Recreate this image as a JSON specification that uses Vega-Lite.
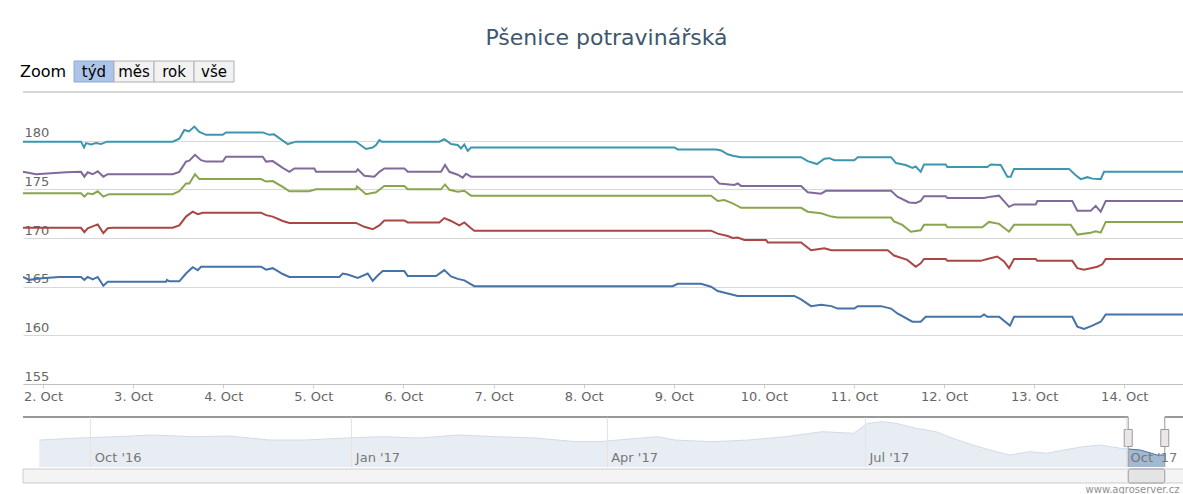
{
  "$schema": "https://vega.github.io/schema/vega-lite/v6.json",
  "padding": {"left": 19, "top": 26, "right": 0, "bottom": 0},
  "background": "white",
  "config": {"font": "DejaVu Sans", "view": {"stroke": null}},
  "title": {"text": "Pšenice potravinářská", "anchor": "middle", "fontSize": 22, "fontWeight": "normal", "color": "#3E576F", "offset": 11, "dx": 4},
  "datasets": {
    "zoomlabel": [{"t": "Zoom"}],
    "buttons": [
      {"b": "týd", "sel": true},
      {"b": "měs", "sel": false},
      {"b": "rok", "sel": false},
      {"b": "vše", "sel": false}
    ],
    "series": [
      {"s":"řada 1","t":"2017-10-01T18:40","v":166.0},
      {"s":"řada 1","t":"2017-10-01T20:21","v":165.7},
      {"s":"řada 1","t":"2017-10-01T23:01","v":165.85},
      {"s":"řada 1","t":"2017-10-02T04:16","v":166.0},
      {"s":"řada 1","t":"2017-10-02T10:07","v":166.0},
      {"s":"řada 1","t":"2017-10-02T11:00","v":165.7},
      {"s":"řada 1","t":"2017-10-02T11:54","v":166.0},
      {"s":"řada 1","t":"2017-10-02T13:14","v":165.75},
      {"s":"řada 1","t":"2017-10-02T14:34","v":166.0},
      {"s":"řada 1","t":"2017-10-02T16:04","v":165.1},
      {"s":"řada 1","t":"2017-10-02T17:14","v":165.5},
      {"s":"řada 1","t":"2017-10-03T08:46","v":165.5},
      {"s":"řada 1","t":"2017-10-03T09:00","v":165.7},
      {"s":"řada 1","t":"2017-10-03T09:38","v":165.55},
      {"s":"řada 1","t":"2017-10-03T12:18","v":165.55},
      {"s":"řada 1","t":"2017-10-03T14:05","v":166.35},
      {"s":"řada 1","t":"2017-10-03T15:52","v":167.0},
      {"s":"řada 1","t":"2017-10-03T17:13","v":166.7},
      {"s":"řada 1","t":"2017-10-03T18:05","v":167.05},
      {"s":"řada 1","t":"2017-10-04T10:04","v":167.05},
      {"s":"řada 1","t":"2017-10-04T11:24","v":166.75},
      {"s":"řada 1","t":"2017-10-04T13:11","v":166.9},
      {"s":"řada 1","t":"2017-10-04T15:51","v":166.3},
      {"s":"řada 1","t":"2017-10-04T17:37","v":166.0},
      {"s":"řada 1","t":"2017-10-05T06:56","v":166.0},
      {"s":"řada 1","t":"2017-10-05T07:50","v":166.35},
      {"s":"řada 1","t":"2017-10-05T09:10","v":166.25},
      {"s":"řada 1","t":"2017-10-05T11:50","v":165.9},
      {"s":"řada 1","t":"2017-10-05T14:29","v":166.35},
      {"s":"řada 1","t":"2017-10-05T15:49","v":165.6},
      {"s":"řada 1","t":"2017-10-05T17:09","v":166.15},
      {"s":"řada 1","t":"2017-10-05T18:29","v":166.6},
      {"s":"řada 1","t":"2017-10-06T00:14","v":166.6},
      {"s":"řada 1","t":"2017-10-06T01:09","v":166.1},
      {"s":"řada 1","t":"2017-10-06T08:41","v":166.1},
      {"s":"řada 1","t":"2017-10-06T10:53","v":166.7},
      {"s":"řada 1","t":"2017-10-06T12:41","v":166.05},
      {"s":"řada 1","t":"2017-10-06T14:28","v":165.8},
      {"s":"řada 1","t":"2017-10-06T16:13","v":165.65},
      {"s":"řada 1","t":"2017-10-06T18:53","v":165.05},
      {"s":"řada 1","t":"2017-10-08T23:44","v":165.05},
      {"s":"řada 1","t":"2017-10-09T01:04","v":165.3},
      {"s":"řada 1","t":"2017-10-09T07:16","v":165.3},
      {"s":"řada 1","t":"2017-10-09T09:56","v":165.0},
      {"s":"řada 1","t":"2017-10-09T11:43","v":164.55},
      {"s":"řada 1","t":"2017-10-09T14:23","v":164.3},
      {"s":"řada 1","t":"2017-10-09T17:02","v":164.05},
      {"s":"řada 1","t":"2017-10-10T08:07","v":164.05},
      {"s":"řada 1","t":"2017-10-10T09:55","v":163.7},
      {"s":"řada 1","t":"2017-10-10T12:34","v":163.0},
      {"s":"řada 1","t":"2017-10-10T15:14","v":163.15},
      {"s":"řada 1","t":"2017-10-10T18:00","v":163.0},
      {"s":"řada 1","t":"2017-10-10T19:41","v":162.75},
      {"s":"řada 1","t":"2017-10-11T00:06","v":162.75},
      {"s":"řada 1","t":"2017-10-11T01:00","v":163.0},
      {"s":"řada 1","t":"2017-10-11T07:11","v":163.0},
      {"s":"řada 1","t":"2017-10-11T09:53","v":162.75},
      {"s":"řada 1","t":"2017-10-11T11:34","v":162.25},
      {"s":"řada 1","t":"2017-10-11T15:34","v":161.4},
      {"s":"řada 1","t":"2017-10-11T17:47","v":161.4},
      {"s":"řada 1","t":"2017-10-11T19:07","v":161.9},
      {"s":"řada 1","t":"2017-10-12T09:46","v":161.9},
      {"s":"řada 1","t":"2017-10-12T10:39","v":162.15},
      {"s":"řada 1","t":"2017-10-12T11:32","v":161.9},
      {"s":"řada 1","t":"2017-10-12T14:39","v":161.9},
      {"s":"řada 1","t":"2017-10-12T17:34","v":161.0},
      {"s":"řada 1","t":"2017-10-12T18:39","v":161.9},
      {"s":"řada 1","t":"2017-10-13T10:10","v":161.9},
      {"s":"řada 1","t":"2017-10-13T11:30","v":160.9},
      {"s":"řada 1","t":"2017-10-13T13:17","v":160.65},
      {"s":"řada 1","t":"2017-10-13T15:30","v":161.0},
      {"s":"řada 1","t":"2017-10-13T17:44","v":161.4},
      {"s":"řada 1","t":"2017-10-13T19:04","v":162.15},
      {"s":"řada 1","t":"2017-10-14T15:55","v":162.15},

      {"s":"řada 2","t":"2017-10-01T18:40","v":171.05},
      {"s":"řada 2","t":"2017-10-02T10:07","v":171.05},
      {"s":"řada 2","t":"2017-10-02T11:00","v":170.6},
      {"s":"řada 2","t":"2017-10-02T11:54","v":171.0},
      {"s":"řada 2","t":"2017-10-02T14:34","v":171.4},
      {"s":"řada 2","t":"2017-10-02T16:04","v":170.5},
      {"s":"řada 2","t":"2017-10-02T17:14","v":171.0},
      {"s":"řada 2","t":"2017-10-02T18:34","v":171.05},
      {"s":"řada 2","t":"2017-10-03T10:33","v":171.05},
      {"s":"řada 2","t":"2017-10-03T12:18","v":171.3},
      {"s":"řada 2","t":"2017-10-03T14:05","v":172.2},
      {"s":"řada 2","t":"2017-10-03T15:52","v":172.7},
      {"s":"řada 2","t":"2017-10-03T17:13","v":172.45},
      {"s":"řada 2","t":"2017-10-03T18:32","v":172.6},
      {"s":"řada 2","t":"2017-10-04T10:04","v":172.6},
      {"s":"řada 2","t":"2017-10-04T11:24","v":172.35},
      {"s":"řada 2","t":"2017-10-04T13:11","v":172.2},
      {"s":"řada 2","t":"2017-10-04T15:51","v":171.75},
      {"s":"řada 2","t":"2017-10-04T17:37","v":171.55},
      {"s":"řada 2","t":"2017-10-05T11:22","v":171.55},
      {"s":"řada 2","t":"2017-10-05T13:35","v":171.15},
      {"s":"řada 2","t":"2017-10-05T15:49","v":170.9},
      {"s":"řada 2","t":"2017-10-05T17:35","v":171.3},
      {"s":"řada 2","t":"2017-10-05T18:55","v":171.8},
      {"s":"řada 2","t":"2017-10-06T00:14","v":171.8},
      {"s":"řada 2","t":"2017-10-06T01:09","v":171.6},
      {"s":"řada 2","t":"2017-10-06T09:34","v":171.6},
      {"s":"řada 2","t":"2017-10-06T10:53","v":172.05},
      {"s":"řada 2","t":"2017-10-06T12:41","v":171.75},
      {"s":"řada 2","t":"2017-10-06T14:53","v":171.3},
      {"s":"řada 2","t":"2017-10-06T16:13","v":171.6},
      {"s":"řada 2","t":"2017-10-06T18:00","v":171.0},
      {"s":"řada 2","t":"2017-10-06T18:53","v":170.75},
      {"s":"řada 2","t":"2017-10-09T09:56","v":170.75},
      {"s":"řada 2","t":"2017-10-09T11:43","v":170.45},
      {"s":"řada 2","t":"2017-10-09T14:23","v":170.2},
      {"s":"řada 2","t":"2017-10-09T15:43","v":170.0},
      {"s":"řada 2","t":"2017-10-09T17:02","v":170.05},
      {"s":"řada 2","t":"2017-10-09T18:48","v":169.8},
      {"s":"řada 2","t":"2017-10-10T00:35","v":169.8},
      {"s":"řada 2","t":"2017-10-10T01:02","v":169.55},
      {"s":"řada 2","t":"2017-10-10T09:55","v":169.55},
      {"s":"řada 2","t":"2017-10-10T12:34","v":168.75},
      {"s":"řada 2","t":"2017-10-10T14:22","v":168.85},
      {"s":"řada 2","t":"2017-10-10T16:07","v":168.95},
      {"s":"řada 2","t":"2017-10-10T18:00","v":168.75},
      {"s":"řada 2","t":"2017-10-11T08:59","v":168.75},
      {"s":"řada 2","t":"2017-10-11T10:41","v":168.2},
      {"s":"řada 2","t":"2017-10-11T14:13","v":167.75},
      {"s":"řada 2","t":"2017-10-11T16:28","v":167.05},
      {"s":"řada 2","t":"2017-10-11T17:47","v":167.4},
      {"s":"řada 2","t":"2017-10-11T18:40","v":167.85},
      {"s":"řada 2","t":"2017-10-12T00:27","v":167.85},
      {"s":"řada 2","t":"2017-10-12T00:52","v":167.65},
      {"s":"řada 2","t":"2017-10-12T09:46","v":167.65},
      {"s":"řada 2","t":"2017-10-12T11:32","v":167.85},
      {"s":"řada 2","t":"2017-10-12T14:11","v":168.1},
      {"s":"řada 2","t":"2017-10-12T15:59","v":167.6},
      {"s":"řada 2","t":"2017-10-12T17:19","v":166.9},
      {"s":"řada 2","t":"2017-10-12T18:39","v":167.85},
      {"s":"řada 2","t":"2017-10-13T00:25","v":167.85},
      {"s":"řada 2","t":"2017-10-13T00:51","v":167.65},
      {"s":"řada 2","t":"2017-10-13T10:10","v":167.65},
      {"s":"řada 2","t":"2017-10-13T11:30","v":166.9},
      {"s":"řada 2","t":"2017-10-13T13:17","v":166.75},
      {"s":"řada 2","t":"2017-10-13T16:50","v":167.05},
      {"s":"řada 2","t":"2017-10-13T18:10","v":167.3},
      {"s":"řada 2","t":"2017-10-13T19:04","v":167.85},
      {"s":"řada 2","t":"2017-10-14T15:55","v":167.85},

      {"s":"řada 3","t":"2017-10-01T18:40","v":174.6},
      {"s":"řada 3","t":"2017-10-02T10:07","v":174.6},
      {"s":"řada 3","t":"2017-10-02T11:00","v":174.25},
      {"s":"řada 3","t":"2017-10-02T11:54","v":174.6},
      {"s":"řada 3","t":"2017-10-02T13:14","v":174.5},
      {"s":"řada 3","t":"2017-10-02T14:34","v":174.8},
      {"s":"řada 3","t":"2017-10-02T16:04","v":174.25},
      {"s":"řada 3","t":"2017-10-02T17:35","v":174.5},
      {"s":"řada 3","t":"2017-10-03T10:33","v":174.5},
      {"s":"řada 3","t":"2017-10-03T12:18","v":174.8},
      {"s":"řada 3","t":"2017-10-03T14:05","v":175.6},
      {"s":"řada 3","t":"2017-10-03T14:58","v":175.6},
      {"s":"řada 3","t":"2017-10-03T16:29","v":176.55},
      {"s":"řada 3","t":"2017-10-03T17:38","v":176.05},
      {"s":"řada 3","t":"2017-10-04T10:04","v":176.05},
      {"s":"řada 3","t":"2017-10-04T11:24","v":175.8},
      {"s":"řada 3","t":"2017-10-04T13:11","v":175.85},
      {"s":"řada 3","t":"2017-10-04T15:51","v":175.25},
      {"s":"řada 3","t":"2017-10-04T17:37","v":174.8},
      {"s":"řada 3","t":"2017-10-04T22:51","v":174.8},
      {"s":"řada 3","t":"2017-10-05T00:43","v":175.0},
      {"s":"řada 3","t":"2017-10-05T11:22","v":175.0},
      {"s":"řada 3","t":"2017-10-05T11:38","v":175.3},
      {"s":"řada 3","t":"2017-10-05T14:02","v":174.5},
      {"s":"řada 3","t":"2017-10-05T16:42","v":174.7},
      {"s":"řada 3","t":"2017-10-05T18:55","v":175.35},
      {"s":"řada 3","t":"2017-10-06T00:14","v":175.35},
      {"s":"řada 3","t":"2017-10-06T01:09","v":175.0},
      {"s":"řada 3","t":"2017-10-06T10:01","v":175.0},
      {"s":"řada 3","t":"2017-10-06T11:05","v":175.5},
      {"s":"řada 3","t":"2017-10-06T12:14","v":174.95},
      {"s":"řada 3","t":"2017-10-06T14:28","v":174.75},
      {"s":"řada 3","t":"2017-10-06T16:13","v":174.85},
      {"s":"řada 3","t":"2017-10-06T18:00","v":174.35},
      {"s":"řada 3","t":"2017-10-09T09:56","v":174.35},
      {"s":"řada 3","t":"2017-10-09T11:43","v":173.8},
      {"s":"řada 3","t":"2017-10-09T13:28","v":173.9},
      {"s":"řada 3","t":"2017-10-09T15:43","v":173.55},
      {"s":"řada 3","t":"2017-10-09T17:56","v":173.1},
      {"s":"řada 3","t":"2017-10-10T09:55","v":173.1},
      {"s":"řada 3","t":"2017-10-10T11:41","v":172.7},
      {"s":"řada 3","t":"2017-10-10T15:14","v":172.55},
      {"s":"řada 3","t":"2017-10-10T18:00","v":172.2},
      {"s":"řada 3","t":"2017-10-10T19:41","v":172.1},
      {"s":"řada 3","t":"2017-10-11T09:53","v":172.1},
      {"s":"řada 3","t":"2017-10-11T10:41","v":171.7},
      {"s":"řada 3","t":"2017-10-11T12:53","v":171.35},
      {"s":"řada 3","t":"2017-10-11T15:08","v":170.65},
      {"s":"řada 3","t":"2017-10-11T17:47","v":170.8},
      {"s":"řada 3","t":"2017-10-11T18:40","v":171.35},
      {"s":"řada 3","t":"2017-10-12T00:27","v":171.35},
      {"s":"řada 3","t":"2017-10-12T00:52","v":171.1},
      {"s":"řada 3","t":"2017-10-12T10:11","v":171.1},
      {"s":"řada 3","t":"2017-10-12T11:59","v":171.65},
      {"s":"řada 3","t":"2017-10-12T14:39","v":171.45},
      {"s":"řada 3","t":"2017-10-12T17:19","v":170.65},
      {"s":"řada 3","t":"2017-10-12T18:39","v":171.35},
      {"s":"řada 3","t":"2017-10-13T09:44","v":171.35},
      {"s":"řada 3","t":"2017-10-13T11:30","v":170.35},
      {"s":"řada 3","t":"2017-10-13T15:04","v":170.55},
      {"s":"řada 3","t":"2017-10-13T16:24","v":170.7},
      {"s":"řada 3","t":"2017-10-13T17:44","v":170.55},
      {"s":"řada 3","t":"2017-10-13T19:04","v":171.65},
      {"s":"řada 3","t":"2017-10-14T15:55","v":171.65},

      {"s":"řada 4","t":"2017-10-01T18:40","v":176.8},
      {"s":"řada 4","t":"2017-10-01T22:08","v":176.55},
      {"s":"řada 4","t":"2017-10-02T06:08","v":176.75},
      {"s":"řada 4","t":"2017-10-02T10:07","v":176.8},
      {"s":"řada 4","t":"2017-10-02T11:00","v":176.3},
      {"s":"řada 4","t":"2017-10-02T11:54","v":176.75},
      {"s":"řada 4","t":"2017-10-02T13:14","v":176.55},
      {"s":"řada 4","t":"2017-10-02T14:34","v":176.85},
      {"s":"řada 4","t":"2017-10-02T16:04","v":176.3},
      {"s":"řada 4","t":"2017-10-02T17:14","v":176.55},
      {"s":"řada 4","t":"2017-10-03T10:33","v":176.55},
      {"s":"řada 4","t":"2017-10-03T12:18","v":176.8},
      {"s":"řada 4","t":"2017-10-03T14:05","v":177.85},
      {"s":"řada 4","t":"2017-10-03T14:58","v":177.95},
      {"s":"řada 4","t":"2017-10-03T16:29","v":178.55},
      {"s":"řada 4","t":"2017-10-03T18:05","v":178.0},
      {"s":"řada 4","t":"2017-10-03T19:25","v":177.85},
      {"s":"řada 4","t":"2017-10-03T23:52","v":177.85},
      {"s":"řada 4","t":"2017-10-04T00:45","v":178.35},
      {"s":"řada 4","t":"2017-10-04T10:31","v":178.35},
      {"s":"řada 4","t":"2017-10-04T11:24","v":177.85},
      {"s":"řada 4","t":"2017-10-04T13:11","v":177.9},
      {"s":"řada 4","t":"2017-10-04T15:51","v":177.2},
      {"s":"řada 4","t":"2017-10-04T17:37","v":176.8},
      {"s":"řada 4","t":"2017-10-04T18:56","v":177.15},
      {"s":"řada 4","t":"2017-10-05T00:16","v":177.15},
      {"s":"řada 4","t":"2017-10-05T00:43","v":176.8},
      {"s":"řada 4","t":"2017-10-05T11:22","v":176.8},
      {"s":"řada 4","t":"2017-10-05T11:50","v":177.05},
      {"s":"řada 4","t":"2017-10-05T13:35","v":176.4},
      {"s":"řada 4","t":"2017-10-05T16:15","v":176.3},
      {"s":"řada 4","t":"2017-10-05T17:35","v":176.8},
      {"s":"řada 4","t":"2017-10-05T18:55","v":177.15},
      {"s":"řada 4","t":"2017-10-06T00:14","v":177.15},
      {"s":"řada 4","t":"2017-10-06T01:09","v":176.8},
      {"s":"řada 4","t":"2017-10-06T10:01","v":176.8},
      {"s":"řada 4","t":"2017-10-06T11:05","v":177.5},
      {"s":"řada 4","t":"2017-10-06T12:14","v":176.8},
      {"s":"řada 4","t":"2017-10-06T14:28","v":176.5},
      {"s":"řada 4","t":"2017-10-06T15:47","v":176.2},
      {"s":"řada 4","t":"2017-10-06T16:40","v":176.6},
      {"s":"řada 4","t":"2017-10-06T18:00","v":176.3},
      {"s":"řada 4","t":"2017-10-09T10:23","v":176.3},
      {"s":"řada 4","t":"2017-10-09T12:08","v":175.6},
      {"s":"řada 4","t":"2017-10-09T16:08","v":175.45},
      {"s":"řada 4","t":"2017-10-09T17:02","v":175.6},
      {"s":"řada 4","t":"2017-10-09T17:56","v":175.35},
      {"s":"řada 4","t":"2017-10-10T09:55","v":175.35},
      {"s":"řada 4","t":"2017-10-10T11:41","v":174.7},
      {"s":"řada 4","t":"2017-10-10T15:14","v":174.55},
      {"s":"řada 4","t":"2017-10-10T16:34","v":174.85},
      {"s":"řada 4","t":"2017-10-11T09:53","v":174.85},
      {"s":"řada 4","t":"2017-10-11T11:34","v":174.25},
      {"s":"řada 4","t":"2017-10-11T14:41","v":173.65},
      {"s":"řada 4","t":"2017-10-11T16:28","v":173.6},
      {"s":"řada 4","t":"2017-10-11T17:47","v":173.8},
      {"s":"řada 4","t":"2017-10-11T18:40","v":174.3},
      {"s":"řada 4","t":"2017-10-12T00:27","v":174.3},
      {"s":"řada 4","t":"2017-10-12T00:52","v":174.1},
      {"s":"řada 4","t":"2017-10-12T10:39","v":174.1},
      {"s":"řada 4","t":"2017-10-12T12:26","v":174.25},
      {"s":"řada 4","t":"2017-10-12T14:39","v":174.35},
      {"s":"řada 4","t":"2017-10-12T17:19","v":173.2},
      {"s":"řada 4","t":"2017-10-12T18:39","v":173.45},
      {"s":"řada 4","t":"2017-10-13T00:25","v":173.45},
      {"s":"řada 4","t":"2017-10-13T00:51","v":173.8},
      {"s":"řada 4","t":"2017-10-13T10:10","v":173.8},
      {"s":"řada 4","t":"2017-10-13T11:30","v":172.8},
      {"s":"řada 4","t":"2017-10-13T15:04","v":172.8},
      {"s":"řada 4","t":"2017-10-13T16:24","v":173.3},
      {"s":"řada 4","t":"2017-10-13T17:44","v":172.7},
      {"s":"řada 4","t":"2017-10-13T19:04","v":173.8},
      {"s":"řada 4","t":"2017-10-14T15:55","v":173.8},

      {"s":"řada 5","t":"2017-10-01T18:40","v":179.9},
      {"s":"řada 5","t":"2017-10-02T10:07","v":179.9},
      {"s":"řada 5","t":"2017-10-02T10:55","v":179.3},
      {"s":"řada 5","t":"2017-10-02T11:27","v":179.75},
      {"s":"řada 5","t":"2017-10-02T12:47","v":179.6},
      {"s":"řada 5","t":"2017-10-02T14:07","v":179.75},
      {"s":"řada 5","t":"2017-10-02T15:27","v":179.65},
      {"s":"řada 5","t":"2017-10-02T17:03","v":179.9},
      {"s":"řada 5","t":"2017-10-03T10:33","v":179.9},
      {"s":"řada 5","t":"2017-10-03T12:18","v":180.2},
      {"s":"řada 5","t":"2017-10-03T13:38","v":181.1},
      {"s":"řada 5","t":"2017-10-03T14:53","v":180.95},
      {"s":"řada 5","t":"2017-10-03T16:18","v":181.45},
      {"s":"řada 5","t":"2017-10-03T17:38","v":180.9},
      {"s":"řada 5","t":"2017-10-03T19:25","v":180.6},
      {"s":"řada 5","t":"2017-10-03T23:52","v":180.6},
      {"s":"řada 5","t":"2017-10-04T00:45","v":180.85},
      {"s":"řada 5","t":"2017-10-04T10:31","v":180.85},
      {"s":"řada 5","t":"2017-10-04T12:17","v":180.6},
      {"s":"řada 5","t":"2017-10-04T13:32","v":180.65},
      {"s":"řada 5","t":"2017-10-04T15:51","v":180.0},
      {"s":"řada 5","t":"2017-10-04T17:11","v":179.65},
      {"s":"řada 5","t":"2017-10-04T18:31","v":179.8},
      {"s":"řada 5","t":"2017-10-04T19:23","v":179.9},
      {"s":"řada 5","t":"2017-10-05T11:22","v":179.9},
      {"s":"řada 5","t":"2017-10-05T14:02","v":179.15},
      {"s":"řada 5","t":"2017-10-05T15:49","v":179.3},
      {"s":"řada 5","t":"2017-10-05T16:42","v":179.55},
      {"s":"řada 5","t":"2017-10-05T17:35","v":180.05},
      {"s":"řada 5","t":"2017-10-05T18:13","v":179.9},
      {"s":"řada 5","t":"2017-10-06T09:34","v":179.9},
      {"s":"řada 5","t":"2017-10-06T10:53","v":180.15},
      {"s":"řada 5","t":"2017-10-06T12:41","v":179.65},
      {"s":"řada 5","t":"2017-10-06T14:28","v":179.55},
      {"s":"řada 5","t":"2017-10-06T15:20","v":179.2},
      {"s":"řada 5","t":"2017-10-06T16:13","v":179.6},
      {"s":"řada 5","t":"2017-10-06T17:08","v":178.95},
      {"s":"řada 5","t":"2017-10-06T18:00","v":179.3},
      {"s":"řada 5","t":"2017-10-09T00:10","v":179.3},
      {"s":"řada 5","t":"2017-10-09T01:04","v":179.1},
      {"s":"řada 5","t":"2017-10-09T11:16","v":179.1},
      {"s":"řada 5","t":"2017-10-09T12:36","v":179.0},
      {"s":"řada 5","t":"2017-10-09T14:23","v":178.6},
      {"s":"řada 5","t":"2017-10-09T15:43","v":178.45},
      {"s":"řada 5","t":"2017-10-09T17:56","v":178.3},
      {"s":"řada 5","t":"2017-10-10T09:55","v":178.3},
      {"s":"řada 5","t":"2017-10-10T11:41","v":177.9},
      {"s":"řada 5","t":"2017-10-10T14:10","v":177.6},
      {"s":"řada 5","t":"2017-10-10T16:07","v":178.15},
      {"s":"řada 5","t":"2017-10-10T17:27","v":178.2},
      {"s":"řada 5","t":"2017-10-10T18:47","v":178.0},
      {"s":"řada 5","t":"2017-10-11T00:06","v":178.0},
      {"s":"řada 5","t":"2017-10-11T01:00","v":178.3},
      {"s":"řada 5","t":"2017-10-11T09:53","v":178.3},
      {"s":"řada 5","t":"2017-10-11T11:13","v":177.7},
      {"s":"řada 5","t":"2017-10-11T13:47","v":177.5},
      {"s":"řada 5","t":"2017-10-11T15:34","v":177.2},
      {"s":"řada 5","t":"2017-10-11T16:28","v":177.35},
      {"s":"řada 5","t":"2017-10-11T17:47","v":176.8},
      {"s":"řada 5","t":"2017-10-11T18:40","v":177.55},
      {"s":"řada 5","t":"2017-10-12T00:27","v":177.55},
      {"s":"řada 5","t":"2017-10-12T00:52","v":177.3},
      {"s":"řada 5","t":"2017-10-12T11:32","v":177.3},
      {"s":"řada 5","t":"2017-10-12T12:26","v":177.55},
      {"s":"řada 5","t":"2017-10-12T15:06","v":177.5},
      {"s":"řada 5","t":"2017-10-12T16:52","v":176.3},
      {"s":"řada 5","t":"2017-10-12T17:46","v":176.3},
      {"s":"řada 5","t":"2017-10-12T18:39","v":177.1},
      {"s":"řada 5","t":"2017-10-13T09:17","v":177.1},
      {"s":"řada 5","t":"2017-10-13T11:05","v":176.45},
      {"s":"řada 5","t":"2017-10-13T12:25","v":176.05},
      {"s":"řada 5","t":"2017-10-13T14:10","v":176.25},
      {"s":"řada 5","t":"2017-10-13T15:30","v":176.1},
      {"s":"řada 5","t":"2017-10-13T17:44","v":176.05},
      {"s":"řada 5","t":"2017-10-13T18:37","v":176.8},
      {"s":"řada 5","t":"2017-10-14T15:55","v":176.8}
    ],
    "nav": [
      {"d":"2016-09-13T00:00","v":177},
      {"d":"2016-09-27T00:00","v":179},
      {"d":"2016-10-10T00:00","v":180.3},
      {"d":"2016-10-23T00:00","v":182},
      {"d":"2016-11-06T00:00","v":180.3},
      {"d":"2016-11-19T00:00","v":181},
      {"d":"2016-12-03T00:00","v":177},
      {"d":"2016-12-16T00:00","v":177},
      {"d":"2016-12-30T00:00","v":179},
      {"d":"2017-01-12T00:00","v":180.3},
      {"d":"2017-01-25T00:00","v":179},
      {"d":"2017-02-08T00:00","v":182},
      {"d":"2017-02-21T00:00","v":180.3},
      {"d":"2017-03-07T00:00","v":179},
      {"d":"2017-03-21T00:00","v":175.3},
      {"d":"2017-03-30T00:00","v":175.5},
      {"d":"2017-04-12T00:00","v":178.7},
      {"d":"2017-04-19T00:00","v":180.3},
      {"d":"2017-04-25T00:00","v":177},
      {"d":"2017-05-08T00:00","v":175.3},
      {"d":"2017-05-21T00:00","v":177},
      {"d":"2017-06-03T00:00","v":180.3},
      {"d":"2017-06-16T00:00","v":185.3},
      {"d":"2017-06-27T00:00","v":183.7},
      {"d":"2017-07-02T00:00","v":193.7},
      {"d":"2017-07-07T00:00","v":195.3},
      {"d":"2017-07-12T00:00","v":193.7},
      {"d":"2017-07-19T00:00","v":188.7},
      {"d":"2017-07-26T00:00","v":185.3},
      {"d":"2017-08-01T00:00","v":178.7},
      {"d":"2017-08-08T00:00","v":172},
      {"d":"2017-08-14T00:00","v":167},
      {"d":"2017-08-21T00:00","v":162},
      {"d":"2017-08-28T00:00","v":165.3},
      {"d":"2017-09-03T00:00","v":163.7},
      {"d":"2017-09-09T00:00","v":167},
      {"d":"2017-09-16T00:00","v":170.3},
      {"d":"2017-09-22T00:00","v":172},
      {"d":"2017-09-29T00:00","v":168.7},
      {"d":"2017-10-06T00:00","v":167},
      {"d":"2017-10-12T00:00","v":162},
      {"d":"2017-10-14T15:55","v":162}
    ],
    "mask": [
      {"from":"2016-09-07T07:00","to":"2017-10-01T18:40"},
      {"from":"2017-10-14T15:55","to":"2017-10-21T10:30"}
    ],
    "sel": [
      {"d":"2017-10-01T18:40"},
      {"d":"2017-10-14T15:55"}
    ],
    "track": [{"from":"2016-09-07T07:00","to":"2017-10-21T10:30"}],
    "thumb": [{"from":"2017-10-01T18:40","to":"2017-10-14T15:55"}]
  },
  "spacing": 13,
  "vconcat": [
    {
      "spacing": 8,
      "vconcat": [
        {
          "spacing": 6,
          "hconcat": [
            {
              "width": 40, "height": 21,
              "data": {"name": "zoomlabel"},
              "mark": {"type": "text", "fontSize": 16, "color": "#000000", "baseline": "middle", "align": "center"},
              "encoding": {"text": {"field": "t", "type": "nominal"}}
            },
            {
              "width": 160, "height": 21,
              "data": {"name": "buttons"},
              "encoding": {
                "x": {"field": "b", "type": "nominal", "sort": null, "scale": {"paddingInner": 0, "paddingOuter": 0}, "axis": null}
              },
              "layer": [
                {
                  "mark": {"type": "rect", "strokeWidth": 1},
                  "encoding": {
                    "fill": {"condition": {"test": "datum.sel", "value": "#acc4e8"}, "value": "#f2f2f2"},
                    "stroke": {"condition": {"test": "datum.sel", "value": "#8fa9d2"}, "value": "#b0b0b0"}
                  }
                },
                {
                  "mark": {"type": "text", "fontSize": 15, "color": "#000000", "baseline": "middle"},
                  "encoding": {"text": {"field": "b", "type": "nominal"}}
                }
              ]
            }
          ]
        },
        {
          "width": 1161, "height": 292,
          "data": {"name": "series"},
          "encoding": {
            "x": {"field": "t", "type": "temporal", "title": null,
              "scale": {"domain": [{"year": 2017, "month": 10, "date": 1, "hours": 18, "minutes": 40}, {"year": 2017, "month": 10, "date": 14, "hours": 15, "minutes": 55}]},
              "axis": {"title": null, "format": "%-d. %b", "tickCount": {"interval": "day", "step": 1}, "grid": false, "domainColor": "#C0C0C0", "tickColor": "#C0D0E0", "tickSize": 4, "labelPadding": 2, "labelColor": "#666666", "labelFontSize": 13, "labelFlush": false, "labelOverlap": false}
            },
            "y": {"field": "v", "type": "quantitative", "title": null,
              "scale": {"domain": [155, 185], "nice": false, "zero": false},
              "axis": {"title": null, "values": [155, 160, 165, 170, 175, 180], "grid": true, "gridColor": "#D8D8D8", "domain": false, "ticks": false, "labelAlign": "left", "labelBaseline": "alphabetic", "labelPadding": -1, "labelOffset": -4, "labelColor": "#666666", "labelFontSize": 13}
            }
          },
          "layer": [
            {
              "mark": {"type": "rule", "color": "#D8D8D8", "strokeWidth": 1},
              "encoding": {"x": null, "y": {"datum": 185}}
            },
            {
              "mark": {"type": "line", "strokeWidth": 2, "clip": true},
              "encoding": {
                "color": {"field": "s", "type": "nominal", "legend": null,
                  "scale": {"domain": ["řada 1", "řada 2", "řada 3", "řada 4", "řada 5"], "range": ["#4572A7", "#AA4643", "#89A54E", "#80699B", "#3D96AE"]}}
              }
            }
          ]
        }
      ]
    },
    {
      "spacing": 0,
      "vconcat": [
        {
          "width": 1161, "height": 50,
          "layer": [
            {
              "data": {"name": "nav"},
              "mark": {"type": "area", "fill": "#4572A7", "fillOpacity": 0.5, "line": {"color": "#4572A7", "strokeWidth": 1}, "clip": true},
              "encoding": {
                "x": {"field": "d", "type": "temporal", "title": null,
                  "scale": {"domain": [{"year": 2016, "month": 9, "date": 7, "hours": 7}, {"year": 2017, "month": 10, "date": 21, "hours": 10, "minutes": 30}]},
                  "axis": {"title": null, "format": "%b '%y", "tickCount": {"interval": "month", "step": 3}, "grid": true, "gridColor": "#E4E4E4", "domain": false, "ticks": false, "labelAlign": "left", "labelBaseline": "alphabetic", "labelPadding": -6, "labelOffset": 4, "labelColor": "#777777", "labelFontSize": 13, "labelFlush": false, "zindex": 1}
                },
                "y": {"field": "v", "type": "quantitative", "title": null, "scale": {"domain": [150, 200], "nice": false, "zero": false}, "axis": null}
              }
            },
            {
              "data": {"name": "mask"},
              "mark": {"type": "rect", "fill": "#ffffff", "fillOpacity": 0.75},
              "encoding": {
                "x": {"field": "from", "type": "temporal", "title": null},
                "x2": {"field": "to"}
              }
            },
            {
              "data": {"name": "mask"},
              "mark": {"type": "rule", "color": "#999999", "strokeWidth": 2},
              "encoding": {
                "x": {"field": "from", "type": "temporal", "title": null},
                "x2": {"field": "to"},
                "y": {"datum": 200}
              }
            },
            {
              "data": {"name": "sel"},
              "mark": {"type": "rule", "color": "#999999", "strokeWidth": 1},
              "encoding": {
                "x": {"field": "d", "type": "temporal", "title": null}
              }
            },
            {
              "data": {"name": "sel"},
              "mark": {"type": "point", "shape": "M-0.47,-1H0.47V1H-0.47Z", "size": 289, "filled": true, "fill": "#ebe7e8", "stroke": "#999999", "strokeWidth": 1, "opacity": 1, "yOffset": -4},
              "encoding": {
                "x": {"field": "d", "type": "temporal", "title": null}
              }
            }
          ]
        },
        {
          "width": 1161, "height": 14,
          "title": {"text": "www.agroserver.cz", "orient": "bottom", "anchor": "end", "fontSize": 10, "fontWeight": "normal", "color": "#909090", "offset": 1, "dx": -5},
          "layer": [
            {
              "data": {"name": "track"},
              "mark": {"type": "rect", "fill": "#f4f4f4", "stroke": "#cccccc", "strokeWidth": 1},
              "encoding": {
                "x": {"field": "from", "type": "temporal", "title": null, "axis": null,
                  "scale": {"domain": [{"year": 2016, "month": 9, "date": 7, "hours": 7}, {"year": 2017, "month": 10, "date": 21, "hours": 10, "minutes": 30}]}},
                "x2": {"field": "to"}
              }
            },
            {
              "data": {"name": "thumb"},
              "mark": {"type": "rect", "fill": "#e4e4e4", "stroke": "#999999", "strokeWidth": 1, "cornerRadius": 2},
              "encoding": {
                "x": {"field": "from", "type": "temporal", "title": null},
                "x2": {"field": "to"}
              }
            }
          ]
        }
      ]
    }
  ]
}
